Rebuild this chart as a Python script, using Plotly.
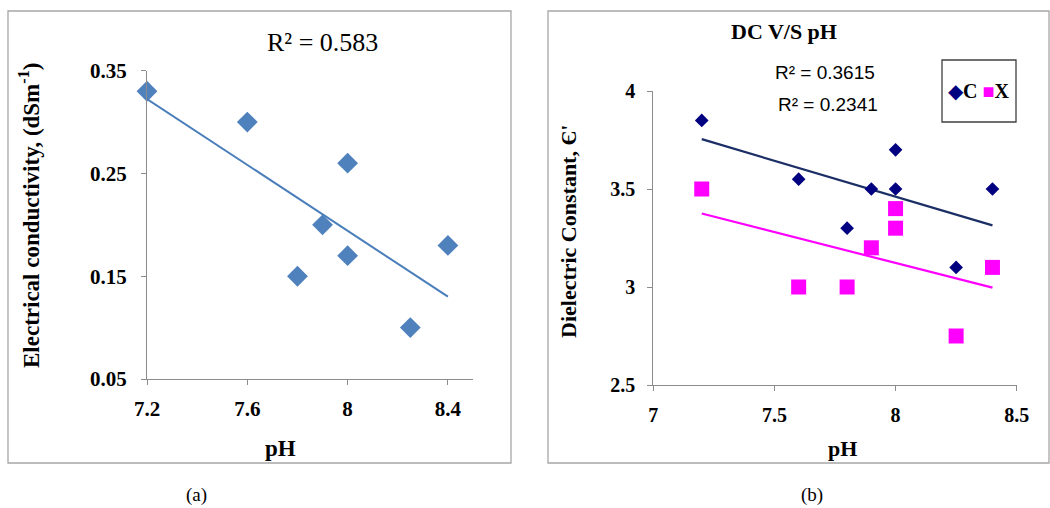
import numpy as np
import plotly.graph_objects as go

# --- data -------------------------------------------------------------
ph = [7.2, 7.6, 7.8, 7.9, 8.0, 8.0, 8.25, 8.4]
ec = [0.33, 0.30, 0.15, 0.20, 0.26, 0.17, 0.10, 0.18]          # dS m^-1
dc_c = [3.85, 3.55, 3.30, 3.50, 3.70, 3.50, 3.10, 3.50]
dc_x = [3.50, 3.00, 3.00, 3.20, 3.40, 3.30, 2.75, 3.10]
ec_ticks = [0.05, 0.15, 0.25, 0.35]
ph_ticks_a = [7.2, 7.6, 8.0, 8.4]
ph_ticks_b = [7, 7.5, 8, 8.5]
dc_ticks = [2.5, 3, 3.5, 4]
r2_ec = "R² = 0.583"
r2_c = "R² = 0.3615"
r2_x = "R² = 0.2341"

W, H = 1050, 508
SERIF = "Liberation Serif"
SANS = "Liberation Sans"
AXIS_GREY = "#8c8c8c"


def px(x):
    return x / W


def py(y):
    return 1 - y / H


def trend(xs, ys):
    k, b = np.polyfit(xs, ys, 1)
    xl = np.array([min(xs), max(xs)])
    return xl, k * xl + b


def bold_labels(vals, fmt="{:g}"):
    return [f"<b>{fmt.format(v)}</b>" for v in vals]


fig = go.Figure()

# panel (a): electrical conductivity
fig.add_trace(go.Scatter(
    x=ph, y=ec, mode="markers", cliponaxis=False,
    marker=dict(symbol="diamond", size=16, color="#4F81BD"),
    xaxis="x", yaxis="y", showlegend=False))
tx, ty = trend(ph, ec)
fig.add_trace(go.Scatter(
    x=tx, y=ty, mode="lines", line=dict(color="#4A7EBB", width=2),
    xaxis="x", yaxis="y", showlegend=False))

# panel (b): dielectric constant
tx, ty = trend(ph, dc_c)
fig.add_trace(go.Scatter(
    x=tx, y=ty, mode="lines", line=dict(color="#1B2F66", width=2.2),
    xaxis="x2", yaxis="y2", showlegend=False))
tx, ty = trend(ph, dc_x)
fig.add_trace(go.Scatter(
    x=tx, y=ty, mode="lines", line=dict(color="#FF00FF", width=2.2),
    xaxis="x2", yaxis="y2", showlegend=False))
fig.add_trace(go.Scatter(
    x=ph, y=dc_c, mode="markers", cliponaxis=False, name="C",
    marker=dict(symbol="diamond", size=10.5, color="#000080"),
    xaxis="x2", yaxis="y2", showlegend=False))
fig.add_trace(go.Scatter(
    x=ph, y=dc_x, mode="markers", cliponaxis=False, name="X",
    marker=dict(symbol="square", size=15, color="#FF00FF"),
    xaxis="x2", yaxis="y2", showlegend=False))

axis_common = dict(
    showgrid=False, zeroline=False, showline=True, linecolor=AXIS_GREY,
    linewidth=1.3, ticks="outside", ticklen=5, tickcolor=AXIS_GREY,
    tickwidth=1.3, fixedrange=True, automargin=False)
font_a = dict(family=SERIF, size=21, color="black")
font_b = dict(family=SERIF, size=20, color="black")

fig.update_layout(
    width=W, height=H,
    margin=dict(l=0, r=0, t=0, b=0, pad=0, autoexpand=False),
    paper_bgcolor="white", plot_bgcolor="white",
    xaxis=dict(axis_common, domain=[px(147), px(473)], range=[7.2, 8.5],
               tickvals=ph_ticks_a, ticktext=bold_labels(ph_ticks_a),
               tickfont=font_a, anchor="y", ticklabelstandoff=6),
    yaxis=dict(axis_common, domain=[py(379), py(70.7)], range=[0.05, 0.35],
               tickvals=ec_ticks, ticktext=bold_labels(ec_ticks, "{:.2f}"),
               tickfont=font_a, anchor="x", ticklabelstandoff=10),
    xaxis2=dict(axis_common, domain=[px(653.3), px(1016.7)], range=[7, 8.5],
                tickvals=ph_ticks_b, ticktext=bold_labels(ph_ticks_b),
                tickfont=font_b, anchor="y2", ticklabelstandoff=7),
    yaxis2=dict(axis_common, domain=[py(385), py(91)], range=[2.5, 4],
                tickvals=dc_ticks, ticktext=bold_labels(dc_ticks),
                tickfont=font_b, anchor="x2", ticklabelstandoff=8),
)

# panel frames and legend box
frame = dict(type="rect", xref="paper", yref="paper",
             line=dict(color="#a6a6a6", width=1.3), fillcolor="rgba(0,0,0,0)")
fig.add_shape(frame, x0=px(8), x1=px(511), y0=py(463), y1=py(11))
fig.add_shape(frame, x0=px(548), x1=px(1049), y0=py(463), y1=py(11))
fig.add_shape(type="rect", xref="paper", yref="paper",
              x0=px(942), x1=px(1016), y0=py(122), y1=py(60),
              line=dict(color="#404040", width=1.3), fillcolor="white")


def label(text, x, y, size, family=SERIF, bold=False, angle=0):
    if bold:
        text = f"<b>{text}</b>"
    fig.add_annotation(
        text=text, x=px(x), y=py(y), xref="paper", yref="paper",
        showarrow=False, textangle=angle, xanchor="center", yanchor="middle",
        font=dict(family=family, size=size, color="black"))


label(r2_ec, 322, 43, 26)
label("Electrical conductivity, (dSm<sup>-1</sup>)", 29, 216, 23, bold=True, angle=-90)
label("pH", 280, 448, 23, bold=True)
label("(a)", 196, 495, 19)

label("DC V/S pH", 784, 31, 22, bold=True)
label(r2_c, 825, 73, 19, family=SANS)
label(r2_x, 828, 105, 19, family=SANS)
label("Dielectric Constant, Є'", 568, 232, 22, bold=True, angle=-90)
label("pH", 842, 448, 22, bold=True)
label("(b)", 812, 495, 19)

fig.add_annotation(
    text=("<span style='color:#000080'>◆</span><b>C</b> "
          "<span style='color:#FF00FF'>■</span><b>X</b>"),
    x=px(979), y=py(91), xref="paper", yref="paper", showarrow=False,
    xanchor="center", yanchor="middle",
    font=dict(family=SERIF, size=20, color="black"))

fig.write_html("out.html")
